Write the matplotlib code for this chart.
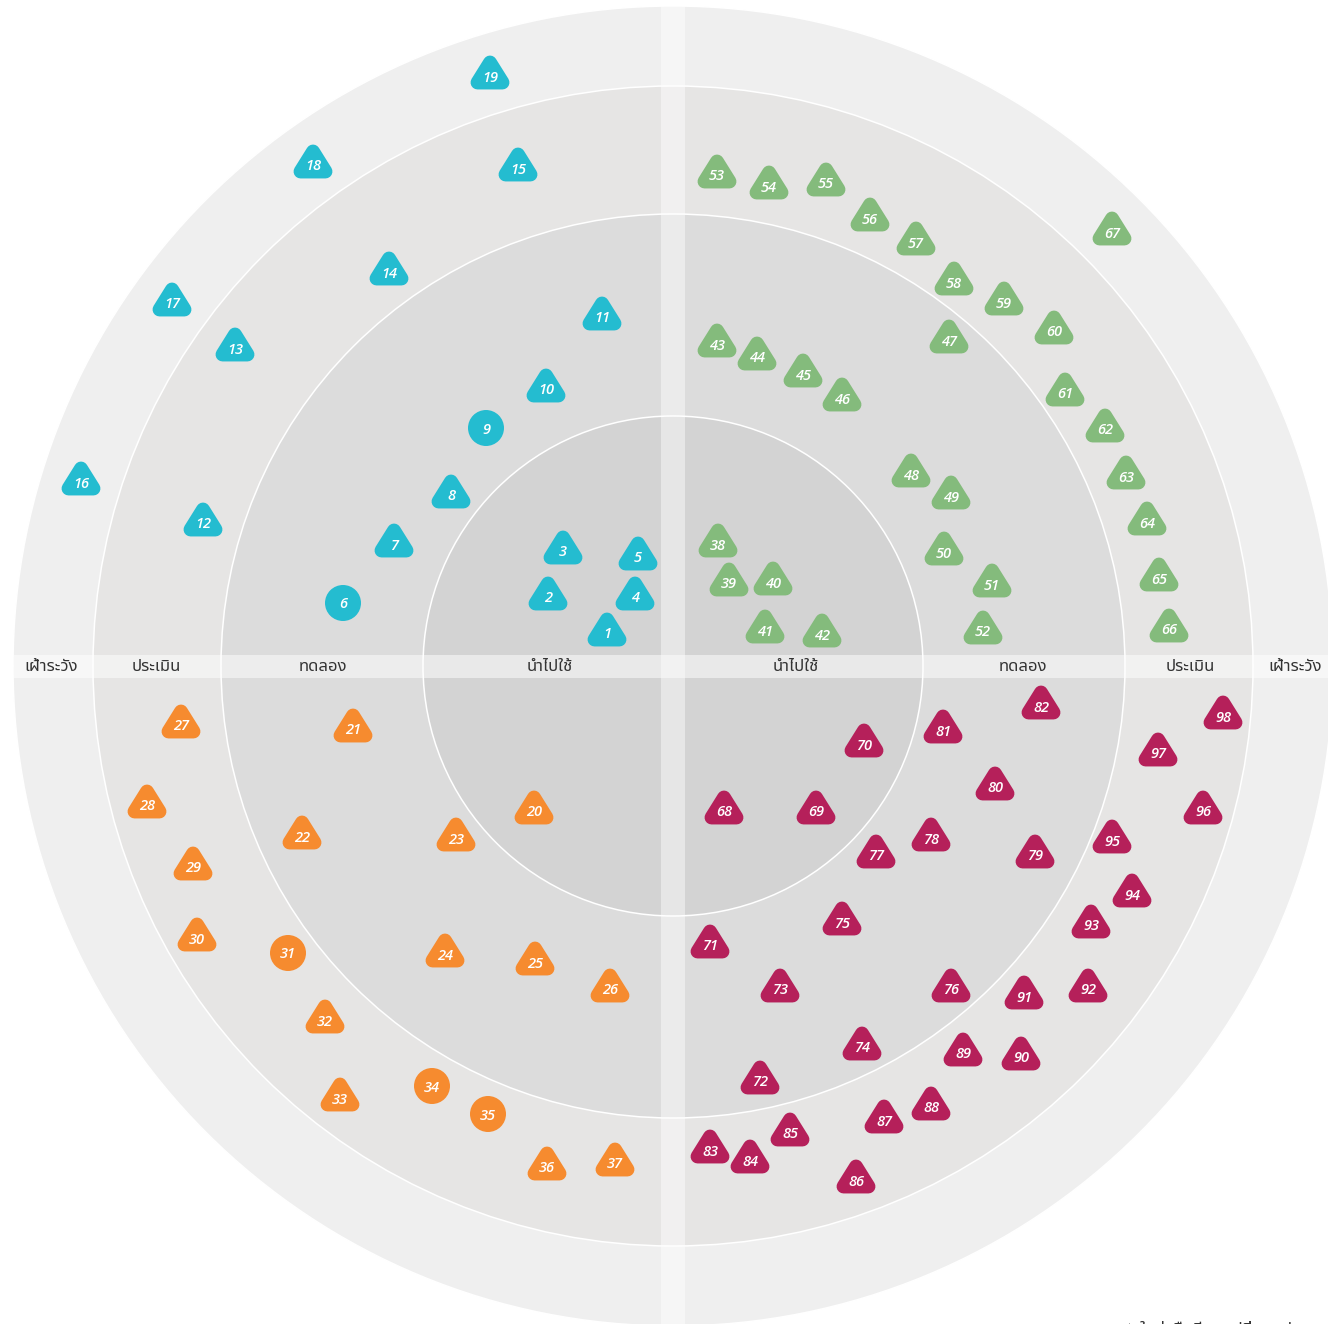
import matplotlib
matplotlib.use("Agg")
import matplotlib.pyplot as plt
from matplotlib.patches import Circle, Rectangle, Polygon

# blip data: number, x, y offset from radar centre (px-like units, y up)
cyan_ids = [1, 2, 3, 4, 5, 6, 7, 8, 9, 10, 11, 12, 13, 14, 15, 16, 17, 18, 19]
cyan_x = [-66, -125, -110, -38, -35, -330, -279, -222, -187, -127, -71, -470, -438, -284, -155, -592, -501, -360, -183]
cyan_y = [33, 69, 115, 69, 109, 63, 122, 171, 238, 277, 349, 143, 318, 394, 498, 184, 363, 501, 590]

orange_ids = [20, 21, 22, 23, 24, 25, 26, 27, 28, 29, 30, 31, 32, 33, 34, 35, 36, 37]
orange_x = [-139, -320, -371, -217, -228, -138, -63, -492, -526, -480, -476, -385, -348, -333, -241, -185, -126, -58]
orange_y = [-145, -63, -170, -172, -288, -296, -323, -59, -139, -201, -272, -287, -354, -432, -420, -448, -501, -497]

green_ids = list(range(38, 68))
green_x = [45, 56, 100, 92, 149, 44, 84, 130, 169, 276, 238, 278, 271, 319, 310,
           44, 96, 153, 197, 243, 281, 331, 381, 392, 432, 453, 474, 486, 496, 439]
green_y = [122, 83, 84, 36, 32, 322, 309, 292, 268, 326, 192, 170, 114, 82, 35,
           491, 480, 483, 448, 424, 384, 364, 335, 273, 237, 190, 144, 88, 37, 434]

magenta_ids = list(range(68, 99))
magenta_x = [51, 143, 191, 37, 87, 107, 189, 169, 278, 203, 258, 362, 322, 270, 368,
             37, 77, 117, 183, 211, 258, 290, 348, 351, 415, 418, 459, 439, 530, 485, 550]
magenta_y = [-145, -145, -78, -279, -415, -323, -381, -256, -323, -189, -172, -189, -121, -64, -40,
             -484, -494, -467, -514, -454, -441, -387, -391, -330, -323, -259, -228, -174, -145, -87, -50]

# blips drawn as circles (unchanged); all others are triangles
circle_ids = [6, 9, 31, 34, 35]

ring_names = ["นำไปใช้", "ทดลอง", "ประเมิน", "เฝ้าระวัง"]
ring_radii = [250, 452, 580, 660]
ring_colors = ["#d3d3d3", "#dcdcdc", "#e6e5e4", "#efefef"]
label_pos = [123, 350, 517, 622]

thai_fonts = ["Noto Sans Thai", "IBM Plex Sans Thai", "DejaVu Sans"]
num_fonts = ["Open Sans", "DejaVu Sans"]

fig = plt.figure(figsize=(13.28, 13.24), dpi=100)
ax = fig.add_axes([0, 0, 1, 1])
ax.set_xlim(-673, 655)
ax.set_ylim(-658, 666)
ax.axis("off")

# rings, outermost first
for r, c in reversed(list(zip(ring_radii, ring_colors))):
    ax.add_patch(Circle((0, 0), r, facecolor=c, edgecolor="white", lw=1.1, zorder=1))

outer = Circle((0, 0), ring_radii[-1], transform=ax.transData)
vband = Rectangle((-12, -700), 24, 1400, facecolor="white", alpha=0.45, lw=0, zorder=2)
hband = Rectangle((-700, -11.5), 1400, 23, facecolor="white", alpha=0.5, lw=0, zorder=2)
for b in (vband, hband):
    ax.add_patch(b)
    b.set_clip_path(outer)

# ring labels on the horizontal band
for name, mid in zip(ring_names, label_pos):
    for side in (-1, 1):
        ax.text(side * mid, -1, name, ha="center", va="center", fontsize=12,
                color="#333333", family=thai_fonts, weight="bold", zorder=3)


def draw_blips(ids, xs, ys, color):
    for n, x, y in zip(ids, xs, ys):
        if n in circle_ids:
            ax.add_patch(Circle((x, y), 18, facecolor=color, edgecolor="none", zorder=4))
        else:
            tri = [(x, y + 13.5), (x - 12.5, y - 6.5), (x + 12.5, y - 6.5)]
            ax.add_patch(Polygon(tri, closed=True, facecolor=color, edgecolor=color,
                                 lw=10, joinstyle="round", zorder=4))
        ax.text(x, y - 5.5, str(n), ha="center", va="baseline", fontsize=10.5,
                color="white", style="italic", weight="semibold", family=num_fonts, zorder=5)


draw_blips(cyan_ids, cyan_x, cyan_y, "#24bcd0")
draw_blips(green_ids, green_x, green_y, "#84bb7c")
draw_blips(orange_ids, orange_x, orange_y, "#f68b2f")
draw_blips(magenta_ids, magenta_x, magenta_y, "#b5205a")

# legend text cut off at the bottom edge
ax.text(450, -668, "▲ ใหม่หรือมีการเปลี่ยนแปลง", ha="left", va="baseline", fontsize=12,
        color="#333333", family=thai_fonts, zorder=5)

fig.savefig("out.png", dpi=100)
